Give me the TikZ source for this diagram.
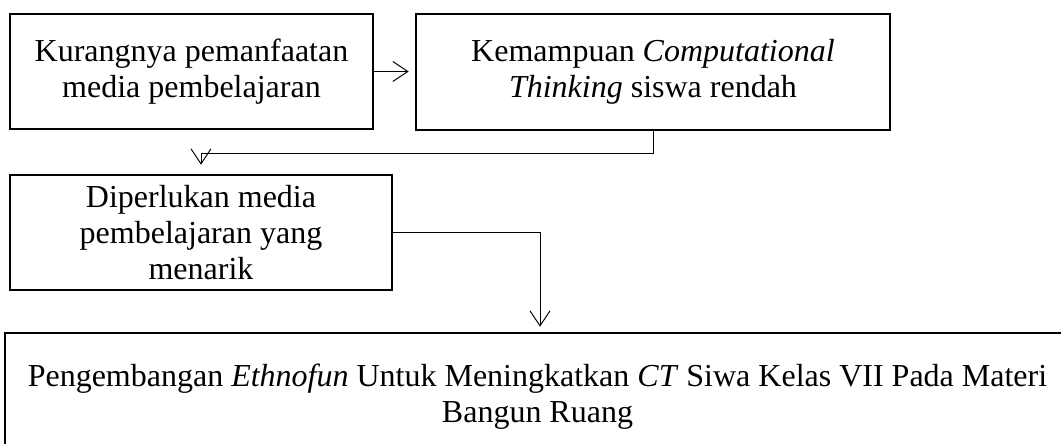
\documentclass[tikz,border=0pt]{standalone}
\usepackage{fontspec}
\setmainfont{Liberation Serif}
\usetikzlibrary{arrows.meta, positioning}

\begin{document}
\begin{tikzpicture}[
  x=1pt, y=-1pt,
  bx/.style={rectangle, draw=black, line width=2.6pt, align=center,
    inner sep=0pt, font=\fontsize{32}{36}\selectfont},
  ar/.style={-{Straight Barb[length=15pt,width=20pt]}, line width=1pt, black}
]
  \clip (0,0) rectangle (1061,444);
  \node[bx, minimum width=363pt, minimum height=115pt] (kur) at (191.5,71.5)
    {Kurangnya pemanfaatan\\media pembelajaran};
  \node[bx, minimum width=474pt, minimum height=116pt] (kem) at (653,72)
    {Kemampuan \textit{Computational}\\\textit{Thinking} siswa rendah};
  \node[bx, minimum width=382pt, minimum height=115pt] (dip) at (201,232.5)
    {Diperlukan media\\pembelajaran yang\\menarik};
  \node[bx, minimum width=1065pt, minimum height=127pt] (eth) at (537.5,396.5)
    {Pengembangan \textit{Ethnofun} Untuk Meningkatkan \textit{CT} Siwa Kelas VII Pada Materi\\Bangun Ruang};
  \draw[ar, shorten >=6pt] (kur.east) -- (kur.east -| kem.west);
  \draw[ar, shorten >=9pt] (kem.south) -- ++(0,22) -| (dip.north);
  \draw[ar, shorten >=5pt] (dip.east) -| ([xshift=2.5pt]eth.north);
\end{tikzpicture}
\end{document}
